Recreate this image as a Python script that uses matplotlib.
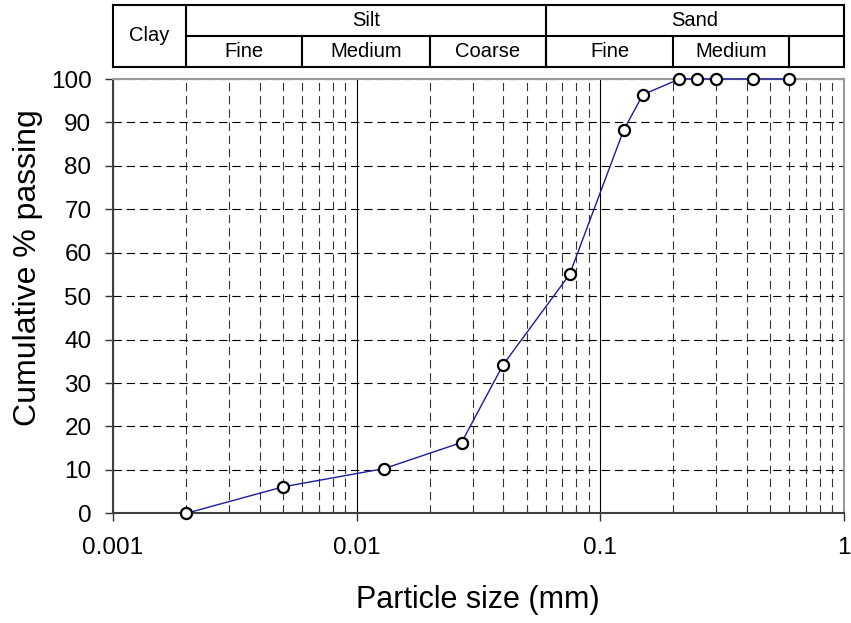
import matplotlib
matplotlib.use("Agg")
import matplotlib.pyplot as plt
from matplotlib.ticker import LogLocator, FixedLocator, NullFormatter, FixedFormatter

plt.rcParams['font.family'] = ['Liberation Sans', 'DejaVu Sans']
plt.rcParams['lines.scale_dashes'] = False

# ---- data ----
particle_size = [0.002, 0.005, 0.013, 0.027, 0.04, 0.075, 0.125, 0.15, 0.212, 0.25, 0.3, 0.425, 0.6]
percent_passing = [0, 6.1, 10.3, 16.3, 34.2, 55.0, 88.2, 96.4, 100, 100, 100, 100, 100]

x_ticks = [0.001, 0.01, 0.1, 1]
x_tick_labels = ["0.001", "0.01", "0.1", "1"]
y_ticks = [0, 10, 20, 30, 40, 50, 60, 70, 80, 90, 100]

main_classes = ["Clay", "Silt", "Sand"]
main_bounds = [0.001, 0.002, 0.06, 1.0]
sub_classes = ["Fine", "Medium", "Coarse", "Fine", "Medium", ""]
sub_bounds = [0.002, 0.006, 0.02, 0.06, 0.2, 0.6, 1.0]

W, H = 851, 623
fig = plt.figure(figsize=(W / 100, H / 100), dpi=100)

# main axes
ax_l, ax_r, ax_b, ax_t = 113, 843.5, 513.3, 79
ax = fig.add_axes([ax_l / W, (H - ax_b) / H, (ax_r - ax_l) / W, (ax_b - ax_t) / H])
ax.set_xscale('log')
ax.set_xlim(0.001, 1)
ax.set_ylim(0, 100)

ax.xaxis.set_major_locator(FixedLocator(x_ticks))
ax.xaxis.set_major_formatter(FixedFormatter(x_tick_labels))
ax.xaxis.set_minor_locator(LogLocator(base=10, subs=range(2, 10), numticks=20))
ax.xaxis.set_minor_formatter(NullFormatter())
ax.yaxis.set_major_locator(FixedLocator(y_ticks))

ax.grid(which='major', axis='x', color='black', linewidth=0.8, linestyle='-')
ax.grid(which='minor', axis='x', color='#333333', linewidth=0.8, linestyle=(0, (6, 3.5)))
ax.grid(which='major', axis='y', color='black', linewidth=0.8, linestyle=(0, (6, 3.5)))
ax.set_axisbelow(True)

ax.tick_params(axis='both', which='major', direction='out', length=6, width=1, color='#333333',
               labelsize=17.5)
ax.tick_params(axis='y', which='major', pad=9.5)
ax.tick_params(axis='x', which='major', pad=11)
ax.tick_params(axis='x', which='minor', direction='in', length=3, width=0.8, color='#333333')

for s in ['left', 'bottom']:
    ax.spines[s].set_color('#404040')
    ax.spines[s].set_linewidth(1.5)
for s in ['top', 'right']:
    ax.spines[s].set_color('#999999')
    ax.spines[s].set_linewidth(1.5)

ax.plot(particle_size, percent_passing, color='#1c1c9c', linewidth=1.0,
        marker='o', markersize=8, markerfacecolor='white', markeredgecolor='black',
        markeredgewidth=1.6, clip_on=False, zorder=5)

ax.set_xlabel("Particle size (mm)", fontsize=22)
ax.xaxis.label.set_verticalalignment('center')
ax.xaxis.set_label_coords(0.5, (ax_b - 600) / (ax_b - ax_t))
ax.set_ylabel("Cumulative % passing", fontsize=23)
ax.yaxis.label.set_verticalalignment('center')
ax.yaxis.set_label_coords((28 - ax_l) / (ax_r - ax_l), (ax_b - 268) / (ax_b - ax_t))

# classification table
tb_b, tb_t = 66.7, 5
tax = fig.add_axes([ax_l / W, (H - tb_b) / H, (ax_r - ax_l) / W, (tb_b - tb_t) / H])
tax.set_xscale('log')
tax.set_xlim(0.001, 1)
tax.set_ylim(0, 2)
tax.axis('off')
lw_t = 1.5
kw = dict(color='black', linewidth=lw_t, clip_on=False, solid_capstyle='projecting')
# outer box
tax.plot([main_bounds[0], main_bounds[-1]], [0, 0], **kw)
tax.plot([main_bounds[0], main_bounds[-1]], [2, 2], **kw)
for b in main_bounds:
    tax.plot([b, b], [0, 2], **kw)
# middle line under main classes (except clay)
tax.plot([sub_bounds[0], sub_bounds[-1]], [1, 1], **kw)
for b in sub_bounds[1:-1]:
    tax.plot([b, b], [0, 1], **kw)

for i, name in enumerate(main_classes):
    lo, hi = main_bounds[i], main_bounds[i + 1]
    xc = (lo * hi) ** 0.5
    yc = 1.0 if name == "Clay" else 1.5
    tax.text(xc, yc, name, ha='center', va='center', fontsize=14.5)
for i, name in enumerate(sub_classes):
    lo, hi = sub_bounds[i], sub_bounds[i + 1]
    xc = (lo * hi) ** 0.5
    tax.text(xc, 0.5, name, ha='center', va='center', fontsize=14.5)

fig.savefig("out.png", dpi=100)
